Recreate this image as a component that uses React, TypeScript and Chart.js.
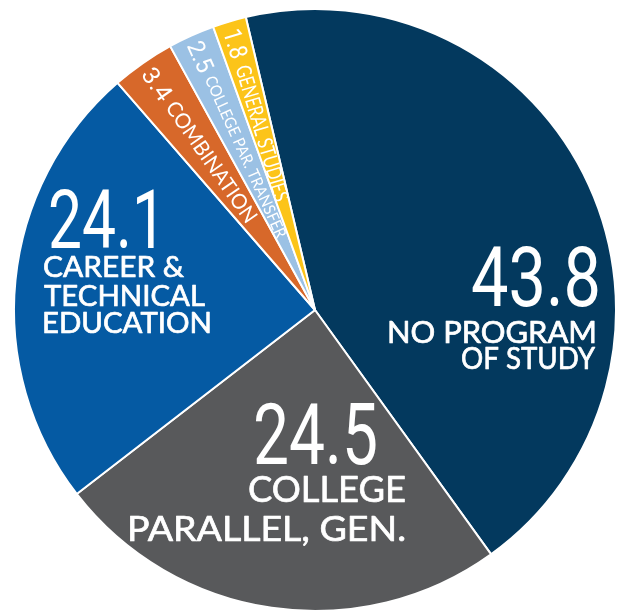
import React, { useEffect, useRef } from 'react';
import { Chart, registerables } from 'chart.js';

Chart.register(...registerables);

// ---- data ----
const categories = [
  'NO PROGRAM OF STUDY',
  'COLLEGE PARALLEL, GEN.',
  'CAREER & TECHNICAL EDUCATION',
  'COMBINATION',
  'COLLEGE PAR. TRANSFER',
  'GENERAL STUDIES',
];
const values = [43.8, 24.5, 24.1, 3.4, 2.5, 1.8];
const valueLabels = ['43.8', '24.5', '24.1', '3.4', '2.5', '1.8'];
const bigLabelLines = [
  ['NO PROGRAM', 'OF STUDY'],
  ['COLLEGE', 'PARALLEL, GEN.'],
  ['CAREER &', 'TECHNICAL', 'EDUCATION'],
];
const smallLabelWords = ['COMBINATION', 'COLLEGE PAR. TRANSFER', 'GENERAL STUDIES'];
const sliceColors = ['#03395e', '#58595b', '#055aa3', '#d7682a', '#9bc1e4', '#fcc419'];

// ---- label styling (offsets relative to pie centre) ----
type LineStyle = { dx: number; dy: number; size: number; w: number; align: CanvasTextAlign };
const bigLabelStyles: { num: LineStyle; lines: LineStyle[] }[] = [
  {
    num: { dx: 286, dy: -4, size: 83, w: 130, align: 'right' },
    lines: [
      { dx: 282, dy: 33, size: 30, w: 210, align: 'right' },
      { dx: 280, dy: 59, size: 30, w: 134, align: 'right' },
    ],
  },
  {
    num: { dx: -62, dy: 154, size: 86, w: 125, align: 'left' },
    lines: [
      { dx: 91, dy: 192, size: 36, w: 158, align: 'right' },
      { dx: 91, dy: 231, size: 35, w: 279, align: 'right' },
    ],
  },
  {
    num: { dx: -267, dy: -62, size: 82, w: 118, align: 'left' },
    lines: [
      { dx: -272, dy: -33, size: 29, w: 141, align: 'left' },
      { dx: -271, dy: -4, size: 29, w: 161, align: 'left' },
      { dx: -273, dy: 23, size: 29, w: 170, align: 'left' },
    ],
  },
];
const smallLabelStyles = [
  { r0: 293, numSize: 24, numW: 35, wordR: 252, wordSize: 21, wordW: 143, bold: false },
  { r0: 294, numSize: 24, numW: 32, wordR: 256, wordSize: 16, wordW: 176, bold: false },
  { r0: 293, numSize: 25, numW: 30, wordR: 255, wordSize: 21, wordW: 141, bold: false },
];

const NUM_FONT = 'Roboto, "DejaVu Sans", sans-serif';
const WORD_FONT = 'Lato, "Open Sans", sans-serif';

function drawFit(
  ctx: CanvasRenderingContext2D,
  text: string,
  x: number,
  y: number,
  font: string,
  w: number,
  align: CanvasTextAlign,
  stroke = 0
) {
  ctx.font = font;
  const m = ctx.measureText(text).width || 1;
  const s = w / m;
  ctx.save();
  ctx.translate(x, y);
  ctx.scale(s, 1);
  ctx.textAlign = align;
  ctx.textBaseline = 'alphabetic';
  ctx.fillText(text, 0, 0);
  if (stroke > 0) {
    ctx.strokeStyle = ctx.fillStyle as string;
    ctx.lineWidth = stroke;
    ctx.lineJoin = 'round';
    ctx.strokeText(text, 0, 0);
  }
  ctx.restore();
}

const labelPlugin = {
  id: 'sliceLabels',
  afterDatasetsDraw(chart: any) {
    const ctx: CanvasRenderingContext2D = chart.ctx;
    const arcs = chart.getDatasetMeta(0).data;
    if (!arcs.length) return;
    const cx = arcs[0].x;
    const cy = arcs[0].y;
    ctx.save();
    ctx.fillStyle = '#ffffff';
    // big slices
    bigLabelStyles.forEach((st, i) => {
      drawFit(ctx, valueLabels[i], cx + st.num.dx, cy + st.num.dy, `${st.num.size}px ${NUM_FONT}`, st.num.w, st.num.align);
      bigLabelLines[i].forEach((line, j) => {
        const ls = st.lines[j];
        drawFit(ctx, line, cx + ls.dx, cy + ls.dy, `${ls.size}px ${WORD_FONT}`, ls.w, ls.align, 0.7);
      });
    });
    // small radial slices
    smallLabelStyles.forEach((st, k) => {
      const i = k + 3;
      const arc = arcs[i];
      const p = arc.getProps(['x', 'y', 'startAngle', 'endAngle', 'outerRadius'], true);
      const mid = (p.startAngle + p.endAngle) / 2;
      ctx.save();
      ctx.beginPath();
      ctx.moveTo(p.x, p.y);
      ctx.arc(p.x, p.y, p.outerRadius, p.startAngle, p.endAngle);
      ctx.closePath();
      ctx.clip();
      ctx.translate(p.x + Math.cos(mid) * st.r0, p.y + Math.sin(mid) * st.r0);
      ctx.rotate(mid + Math.PI);
      const numCap = st.numSize * 0.711;
      drawFit(ctx, valueLabels[i], 0, numCap / 2, `${st.numSize}px ${NUM_FONT}`, st.numW, 'left');
      const wordCap = st.wordSize * 0.72;
      drawFit(
        ctx,
        smallLabelWords[k],
        st.r0 - st.wordR,
        wordCap / 2,
        `${st.bold ? 'bold ' : ''}${st.wordSize}px ${WORD_FONT}`,
        st.wordW,
        'left'
      );
      ctx.restore();
    });
    ctx.restore();
  },
};

export default function App() {
  const ref = useRef<HTMLCanvasElement | null>(null);
  useEffect(() => {
    if (!ref.current) return;
    const chart = new Chart(ref.current, {
      type: 'pie',
      data: {
        labels: categories,
        datasets: [
          {
            data: values,
            backgroundColor: sliceColors,
            borderColor: '#ffffff',
            borderWidth: 2,
            hoverOffset: 0,
          },
        ],
      },
      options: {
        responsive: false,
        animation: false,
        devicePixelRatio: 1,
        rotation: -13.3,
        layout: { padding: { left: 13, right: 1, top: 8, bottom: 2 } },
        plugins: {
          legend: { display: false },
          tooltip: { enabled: false },
        },
        events: [],
      },
      plugins: [labelPlugin],
    } as any);
    return () => chart.destroy();
  }, []);
  return (
    <div style={{ position: 'fixed', left: 0, top: 0, width: 618, height: 614, background: '#fff' }}>
      <canvas ref={ref} width={618} height={614} style={{ display: 'block', width: 618, height: 614 }} />
    </div>
  );
}
